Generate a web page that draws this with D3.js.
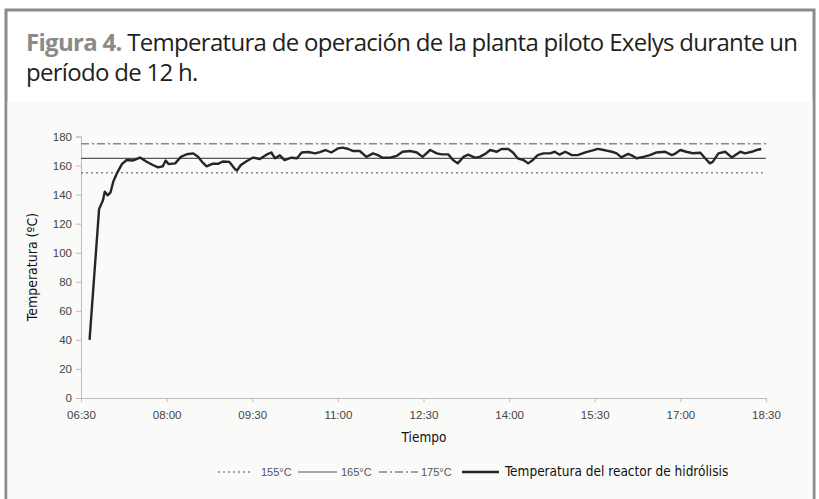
<!DOCTYPE html>
<html>
<head>
<meta charset="utf-8">
<script src="https://cdn.jsdelivr.net/npm/d3@7"></script>
<style>
    body { margin: 0; background: #fff; }
    svg { display: block; }
</style>
</head>
<body>
<svg id="chart" width="819" height="499"></svg>
<script>
// hora de cada lectura y temperatura del reactor (ºC)
const horas = [
    "06:39", "06:44", "06:49", "06:53", "06:55", "06:58", "07:01", "07:04", "07:08", "07:13",
    "07:18", "07:25", "07:32", "07:39", "07:46", "07:51", "07:56", "07:59", "08:02", "08:09",
    "08:15", "08:21", "08:28", "08:33", "08:38", "08:42", "08:48", "08:54", "08:59", "09:06",
    "09:12", "09:14", "09:18", "09:24", "09:31", "09:38", "09:45", "09:50", "09:54", "09:59",
    "10:04", "10:11", "10:17", "10:22", "10:29", "10:36", "10:41", "10:47", "10:53", "11:00",
    "11:05", "11:11", "11:16", "11:23", "11:30", "11:37", "11:42", "11:47", "11:55", "12:02",
    "12:08", "12:16", "12:23", "12:29", "12:37", "12:44", "12:49", "12:56", "13:01", "13:06",
    "13:12", "13:17", "13:24", "13:29", "13:35", "13:40", "13:47", "13:52", "13:59", "14:04",
    "14:09", "14:15", "14:20", "14:25", "14:30", "14:36", "14:43", "14:48", "14:53", "14:59",
    "15:06", "15:12", "15:21", "15:28", "15:33", "15:41", "15:48", "15:53", "15:58", "16:05",
    "16:10", "16:14", "16:21", "16:28", "16:35", "16:44", "16:51", "16:54", "17:00", "17:06",
    "17:13", "17:21", "17:26", "17:31", "17:34", "17:40", "17:47", "17:54", "18:03", "18:08",
    "18:15", "18:20", "18:25"
]
const temperatura = [
    40, 85, 130, 136, 142, 139.5, 141.5, 149, 155, 161,
    163.8, 163.5, 165.5, 162.6, 160.2, 158.8, 159.5, 163.5, 161, 161.5,
    166, 167.8, 168.4, 166, 162, 159.5, 161.2, 161.2, 162.8, 162.5,
    157.5, 156.6, 160.4, 163, 165.5, 164.5, 167.5, 169, 165, 167,
    163.8, 165.4, 165, 169, 169.3, 168.4, 169.3, 170.7, 169, 171.8,
    172.3, 171.4, 170, 170, 166, 168.4, 167.2, 165.4, 165.4, 166.7,
    169.5, 170, 169, 166, 170.7, 168.4, 167.7, 167.7, 163.8, 161.5,
    166, 167.5, 165.5, 166, 168, 170.7, 169.5, 171.4, 171.4, 169,
    165, 163.8, 161.5, 163.8, 167.2, 168.4, 168.4, 169.5, 167.5, 169.5,
    167.2, 167.2, 169.3, 170.5, 171.5, 170.5, 169.5, 168.4, 165.6, 168,
    166.6, 165, 166, 167.2, 169, 169.5, 167.2, 168, 170.7, 169.5,
    168.5, 168.8, 165, 161.5, 162.5, 168.4, 169.5, 165.6, 169.5, 168.4,
    169.5, 170.7, 171.4
]

// líneas de referencia
const referencias = [155, 165, 175]
const refEtiquetas = ["155°C", "165°C", "175°C"]
const refTrazos = ["2,3", null, "8,3,2,3"]

const ejeHoras = ["06:30", "08:00", "09:30", "11:00", "12:30", "14:00", "15:30", "17:00", "18:30"]
const ejeTemp = [0, 20, 40, 60, 80, 100, 120, 140, 160, 180]

const parseHora = d3.timeParse("%H:%M")
const datos = horas.map((h, i) => ({t: parseHora(h), v: temperatura[i]}))

const svg = d3.select("#chart")
const narrow = "'Liberation Sans Narrow', 'DejaVu Sans Condensed', sans-serif"

// marco y fondo
svg.append("rect").attr("x", 6).attr("y", 10).attr("width", 808).attr("height", 500)
    .attr("fill", "#fff").attr("stroke", "#8c8c8c").attr("stroke-width", 3)
svg.append("rect").attr("x", 7.5).attr("y", 102).attr("width", 805).attr("height", 400)
    .attr("fill", "#fafaf9")

// título
const tituloFont = "'Open Sans', sans-serif"
const titulo = svg.append("text").attr("x", 26).attr("y", 51)
    .attr("font-family", tituloFont).attr("font-size", 24).attr("letter-spacing", -0.7)
    .attr("fill", "#231f20")
titulo.append("tspan").attr("font-weight", "bold").attr("fill", "#8a8a8a").text("Figura 4.")
titulo.append("tspan").text(" Temperatura de operación de la planta piloto Exelys durante un")
svg.append("text").attr("x", 26).attr("y", 81)
    .attr("font-family", tituloFont).attr("font-size", 24).attr("letter-spacing", -0.7)
    .attr("fill", "#231f20")
    .text("período de 12 h.")

const x = d3.scaleTime()
    .domain([parseHora(ejeHoras[0]), parseHora(ejeHoras[ejeHoras.length - 1])])
    .range([81, 766])
const y = d3.scaleLinear().domain([0, 180]).range([398, 136.5])

// ejes
const ax = svg.append("g").attr("transform", "translate(0,398)")
    .call(d3.axisBottom(x).tickValues(ejeHoras.map(parseHora))
        .tickFormat(d3.timeFormat("%H:%M")).tickSize(4).tickPadding(9))
const ay = svg.append("g").attr("transform", "translate(81,0)")
    .call(d3.axisLeft(y).tickValues(ejeTemp).tickSize(5).tickPadding(4))

;[ax, ay].forEach(g => {
    g.selectAll("path, line").attr("stroke", "#bdbdbd")
    g.selectAll("text").attr("font-family", "'Liberation Sans', Arial, sans-serif")
        .attr("font-size", 11.5).attr("fill", "#444")
})

// referencias
svg.append("g").selectAll("line").data(referencias).join("line")
    .attr("x1", x.range()[0]).attr("x2", x.range()[1])
    .attr("y1", d => y(d)).attr("y2", d => y(d))
    .attr("stroke", (d, i) => i === 1 ? "#555" : "#888")
    .attr("stroke-width", (d, i) => i === 1 ? 1.2 : 1.5)
    .attr("stroke-dasharray", (d, i) => refTrazos[i])

// serie
svg.append("path").datum(datos)
    .attr("fill", "none").attr("stroke", "#262626").attr("stroke-width", 2.4)
    .attr("stroke-linejoin", "round")
    .attr("d", d3.line().x(d => x(d.t)).y(d => y(d.v)))

// rótulos de ejes
svg.append("text").attr("transform", "translate(37,267) rotate(-90)")
    .attr("text-anchor", "middle").attr("font-family", narrow).attr("font-size", 14)
    .attr("fill", "#111").text("Temperatura (ºC)")
svg.append("text").attr("x", 424).attr("y", 442)
    .attr("text-anchor", "middle").attr("font-family", narrow).attr("font-size", 13.5)
    .attr("fill", "#111").text("Tiempo")

// leyenda
const leyenda = svg.append("g").attr("transform", "translate(0,472)")
const muestras = [
    {x: 218, w: 34, trazo: refTrazos[0], color: "#888", ancho: 1.5, texto: refEtiquetas[0], tx: 261},
    {x: 298, w: 39, trazo: refTrazos[1], color: "#555", ancho: 1.2, texto: refEtiquetas[1], tx: 341},
    {x: 379, w: 39, trazo: refTrazos[2], color: "#888", ancho: 1.5, texto: refEtiquetas[2], tx: 421},
    {x: 462, w: 37, trazo: null, color: "#262626", ancho: 2.4, texto: "Temperatura del reactor de hidrólisis", tx: 505}
]
muestras.forEach((m, i) => {
    leyenda.append("line").attr("x1", m.x).attr("x2", m.x + m.w)
        .attr("stroke", m.color).attr("stroke-width", m.ancho)
        .attr("stroke-dasharray", m.trazo)
    const esSerie = i === 3
    leyenda.append("text").attr("x", m.tx).attr("y", 4)
        .attr("font-family", esSerie ? narrow : "'Liberation Sans', Arial, sans-serif")
        .attr("font-size", esSerie ? 13.5 : 11).attr("fill", esSerie ? "#111" : "#555")
        .text(m.texto)
})
</script>
</body>
</html>
